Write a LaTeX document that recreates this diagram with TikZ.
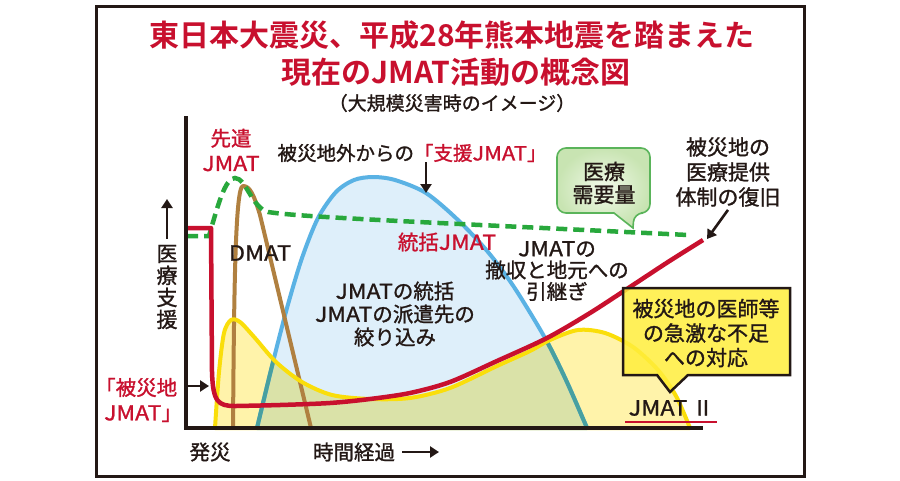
\documentclass[tikz,border=0pt]{standalone}
\usepackage{fontspec}
\setmainfont{Noto Sans CJK JP}[BoldFont={Noto Sans CJK JP Bold}]
\newfontfamily\medfont{Noto Sans CJK JP}[FakeBold=1.2]
\newfontfamily\widefont{Noto Sans CJK JP}[FakeBold=1.2, FakeStretch=1.12]
\usetikzlibrary{arrows.meta,positioning}

\definecolor{ink}{RGB}{35,24,21}
\definecolor{jmatred}{RGB}{200,16,46}
\definecolor{supportline}{RGB}{90,178,228}
\definecolor{supportfill}{RGB}{222,239,250}
\definecolor{jmattwoline}{RGB}{250,222,10}
\definecolor{jmattwofill}{RGB}{255,243,170}
\definecolor{overlapfill}{RGB}{218,226,168}
\definecolor{overlapline}{RGB}{72,160,160}
\definecolor{dmatline}{RGB}{176,128,64}
\definecolor{demandline}{RGB}{40,168,60}
\definecolor{demandedge}{RGB}{90,180,90}
\definecolor{shortagefill}{RGB}{255,238,60}

\newcommand{\setfs}[2]{\fontsize{#1}{#2}\selectfont}
\newcommand{\jm}[1]{{\widefont #1}}

\begin{document}
\begin{tikzpicture}[
    x=1pt, y=-1pt,
    every node/.style={inner sep=0pt, align=center, text=ink},
    lbl/.style={font=\medfont\setfs{20.5}{22}},
    redlbl/.style={font=\medfont\setfs{20.5}{25}, text=jmatred},
    callout/.style={font=\medfont\setfs{21}{23}},
    pointer/.style={draw=ink, line width=2.6pt, -{Triangle[length=9pt, width=11pt]}},
    curve/.style={line width=4pt, line join=round}
]
\useasboundingbox (0,0) rectangle (900,480);
\fill[white] (0,0) rectangle (900,480);
\draw[line width=3pt, draw=ink] (96,6) rectangle (804,476);

% titles
\node[font=\setfs{30}{36}\bfseries, text=jmatred] (ttl_a) at (452,35) {東日本大震災、平成28年熊本地震を踏まえた};
\node[font=\setfs{30}{36}\bfseries, text=jmatred] (ttl_b) at (456,72) {現在のJMAT活動の概念図};
\node[font=\medfont\setfs{19}{20}] (ttl_c) at (452,103) {（大規模災害時のイメージ）};

% areas
\path[save path=\supportarea] plot[smooth] coordinates {(257,428) (272,366) (287,308) (302,258) (318,218) (336,192) (354,180) (373,177) (395,180) (426,193) (458,220) (488,252) (514,287) (545,338) (566,380) (587,428)} -- cycle;
\path[save path=\jmattwoarea] plot[smooth] coordinates {(215,428) (219,372) (224,333) (231,320) (240,322) (255,338) (276,362) (302,382) (332,395) (370,399) (410,398) (450,388) (497,366) (530,351) (550,340) (578,330) (605,333) (633,347) (658,370) (676,396) (690,428)} -- cycle;

\fill[supportfill, use path=\supportarea];
\fill[jmattwofill, use path=\jmattwoarea];
\begin{scope}
  \clip[use path=\jmattwoarea];
  \fill[overlapfill, use path=\supportarea];
\end{scope}
\draw[curve, supportline, use path=\supportarea];
\begin{scope}
  \clip[use path=\jmattwoarea];
  \draw[curve, overlapline, use path=\supportarea];
\end{scope}

% DMAT
\draw[curve, dmatline] (233,428) .. controls (234,300) and (235,186) .. (243,186) .. controls (250,186) and (254,195) .. (260,215) -- (311,428);

\draw[curve, jmattwoline, use path=\jmattwoarea];

% demand
\draw[line width=4.5pt, demandline, dash pattern=on 11pt off 6pt] (187,236) -- (209,236) .. controls (218,205) and (225,178) .. (235,178) .. controls (246,178) and (252,208) .. (268,212) .. controls (300,217) and (400,221) .. (688,235);

% local JMAT
\draw[line width=4.5pt, jmatred, line join=round] (187,228) -- (211,228) -- (212,372) .. controls (213,402) and (218,406) .. (235,406) -- plot[smooth] coordinates {(236,406) (280,405) (330,403) (370,399) (410,393) (450,382) (497,361) (547,338) (590,313) (633,285) (668,262) (703,240)};

% axes
\draw[line width=4pt, draw=ink] (186,116) -- (186,428) -- (703,428);

% labels
\node[font=\medfont\setfs{21}{22}] (ylab) at (167,287) {医\\療\\支\\援};
\coordinate (ylab_tip) at (167,199);
\draw[pointer] ([yshift=6pt]ylab.north) -- (ylab_tip);

\node[redlbl] (lb_advance) at (231,150) {先遣\\\jm{JMAT}};
\node[lbl, font=\medfont\setfs{21}{22}] (lb_dmat) at (260,253) {\jm{DMAT}};

\node[font=\medfont\setfs{19.5}{22}] (lb_support) at (412,153) {被災地外からの\textcolor{jmatred}{「支援\jm{JMAT}」}};
\coordinate (sup_tip) at (426,193);
\draw[pointer] (lb_support.south -| sup_tip) -- (sup_tip);

\draw[line width=1.6pt, draw=demandedge, inner color={rgb,255:red,242;green,249;blue,234}, outer color={rgb,255:red,200;green,228;blue,178}, rounded corners=9pt] (614,213) -- (557,213) -- (557,148) -- (650,148) -- (650,213) -- (634,213) [sharp corners] -- (633,228) -- cycle;
\node[callout] (lb_demand) at (604,183) {医療\\需要量};

\node[callout, font=\medfont\setfs{21}{25}] (lb_recover) at (728,172) {被災地の\\医療提供\\体制の復旧};
\coordinate (rec_tip) at (707,239);
\draw[pointer] ([yshift=-3pt]lb_recover.south) -- (rec_tip);

\node[redlbl] (lb_coord) at (447,242) {統括\jm{JMAT}};
\node[lbl, font=\medfont\setfs{20.5}{21.5}] (lb_handover) at (557,271) {\jm{JMAT}の\\撤収と地元への\\引継ぎ};
\node[lbl, font=\medfont\setfs{20.5}{23}] (lb_role) at (395,314) {\jm{JMAT}の統括\\\jm{JMAT}の派遣先の\\絞り込み};

\draw[line width=2.5pt, draw=ink, fill=shortagefill, fill opacity=0.85] (657,375) -- (623,375) -- (623,288) -- (790,288) -- (790,375) -- (688,375) -- (670,392) -- cycle;
\node[callout, font=\medfont\setfs{21}{24.5}] (lb_shortage) at (706,333) {被災地の医師等\\の急激な不足\\への対応};

\node[lbl, font=\medfont\setfs{21}{22}] (lb_jmat2) at (671,408) {\jm{JMAT}\hspace{5pt}Ⅱ};
\draw[line width=2.5pt, jmatred] ([xshift=-3pt, yshift=-6pt]lb_jmat2.south west) -- ([xshift=3pt, yshift=-6pt]lb_jmat2.south east);

\node[redlbl, align=left, anchor=west] (lb_local) at (104,400) {\hspace*{-9pt}「被災地\\\jm{JMAT}」};
\coordinate (loc_tip) at (209,386);
\draw[pointer] ([xshift=3pt]lb_local.east |- loc_tip) -- (loc_tip);

\node[lbl] (lb_onset) at (210,452) {発災};
\node[lbl] (lb_time) at (354,452) {時間経過};
\coordinate (time_tip) at (439,452);
\draw[pointer] ([xshift=7pt]lb_time.east) -- (time_tip);
\end{tikzpicture}
\end{document}
